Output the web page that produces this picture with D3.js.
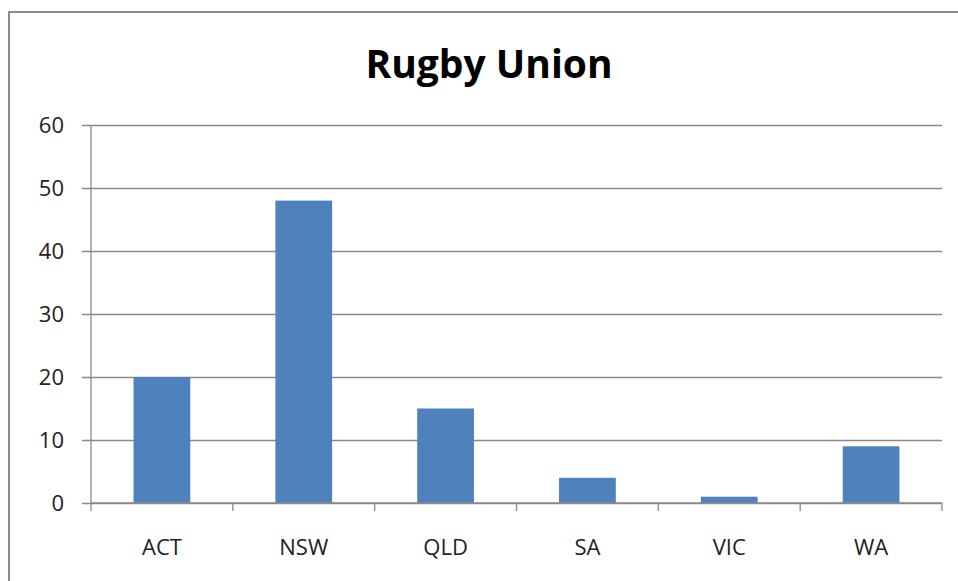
<!DOCTYPE html>
<html>
<head>
<meta charset="utf-8">
<script src="https://cdn.jsdelivr.net/npm/d3@7"></script>
<style>
  body { margin: 0; background: #fff; }
  svg { display: block; font-family: "Open Sans", sans-serif; }
</style>
</head>
<body>
<svg id="chart" width="958" height="581"></svg>
<script>
// data
let states = ["ACT", "NSW", "QLD", "SA", "VIC", "WA"];
let players = [20, 48, 15, 4, 1, 9];
let yTicks = [0, 10, 20, 30, 40, 50, 60];

let width = 958, height = 581;
let plot = { left: 91, right: 942, top: 125, bottom: 503 };

let svg = d3.select("#chart");

// outer chart frame (runs off the right and bottom edge)
svg.append("rect")
  .attr("x", 9).attr("y", 12)
  .attr("width", 980).attr("height", 600)
  .attr("fill", "#fff")
  .attr("stroke", "#8c8c8c")
  .attr("stroke-width", 2);

svg.append("text")
  .attr("x", 489).attr("y", 78)
  .attr("text-anchor", "middle")
  .attr("font-size", 39)
  .attr("font-weight", "bold")
  .attr("fill", "#000")
  .text("Rugby Union");

let x = d3.scaleBand()
  .domain(states)
  .range([plot.left, plot.right]);

let xBar = d3.scaleBand()
  .domain(states)
  .range([plot.left, plot.right])
  .paddingInner(0.6)
  .paddingOuter(0.3);

let y = d3.scaleLinear()
  .domain([0, 60])
  .range([plot.bottom, plot.top]);

// gridlines + y labels
let yAxis = svg.append("g")
  .attr("transform", "translate(" + plot.left + ",0)")
  .call(d3.axisLeft(y).tickValues(yTicks).tickSize(-(plot.right - plot.left)).tickPadding(27).tickFormat(d3.format("d")));
yAxis.select(".domain").remove();
yAxis.selectAll(".tick line")
  .attr("x1", -9)
  .attr("stroke", "#8a8a8a")
  .attr("stroke-width", 1.3);
yAxis.selectAll(".tick text")
  .attr("font-size", 22)
  .attr("fill", "#222")
  .attr("font-family", "Open Sans, sans-serif");

// vertical axis line
svg.append("line")
  .attr("x1", plot.left).attr("x2", plot.left)
  .attr("y1", plot.top).attr("y2", plot.bottom)
  .attr("stroke", "#8a8a8a")
  .attr("stroke-width", 1.3);

// bars
svg.append("g").selectAll("rect")
  .data(states)
  .join("rect")
    .attr("x", d => xBar(d))
    .attr("width", xBar.bandwidth())
    .attr("y", (d, i) => y(players[i]))
    .attr("height", (d, i) => y(0) - y(players[i]))
    .attr("fill", "#4f81bd");

// category axis: ticks sit on band boundaries
let boundaries = states.map(d => x(d)).concat([plot.right]);
let xAxis = svg.append("g");
xAxis.append("line")
  .attr("x1", plot.left).attr("x2", plot.right)
  .attr("y1", plot.bottom).attr("y2", plot.bottom)
  .attr("stroke", "#8a8a8a")
  .attr("stroke-width", 1.3);
xAxis.selectAll(".tk")
  .data(boundaries)
  .join("line")
    .attr("class", "tk")
    .attr("x1", d => d).attr("x2", d => d)
    .attr("y1", plot.bottom).attr("y2", plot.bottom + 8)
    .attr("stroke", "#8a8a8a")
    .attr("stroke-width", 1.3);
xAxis.selectAll("text")
  .data(states)
  .join("text")
    .attr("x", d => x(d) + x.bandwidth() / 2)
    .attr("y", 555)
    .attr("text-anchor", "middle")
    .attr("font-size", 22)
    .attr("fill", "#222")
    .text(d => d);
</script>
</body>
</html>
